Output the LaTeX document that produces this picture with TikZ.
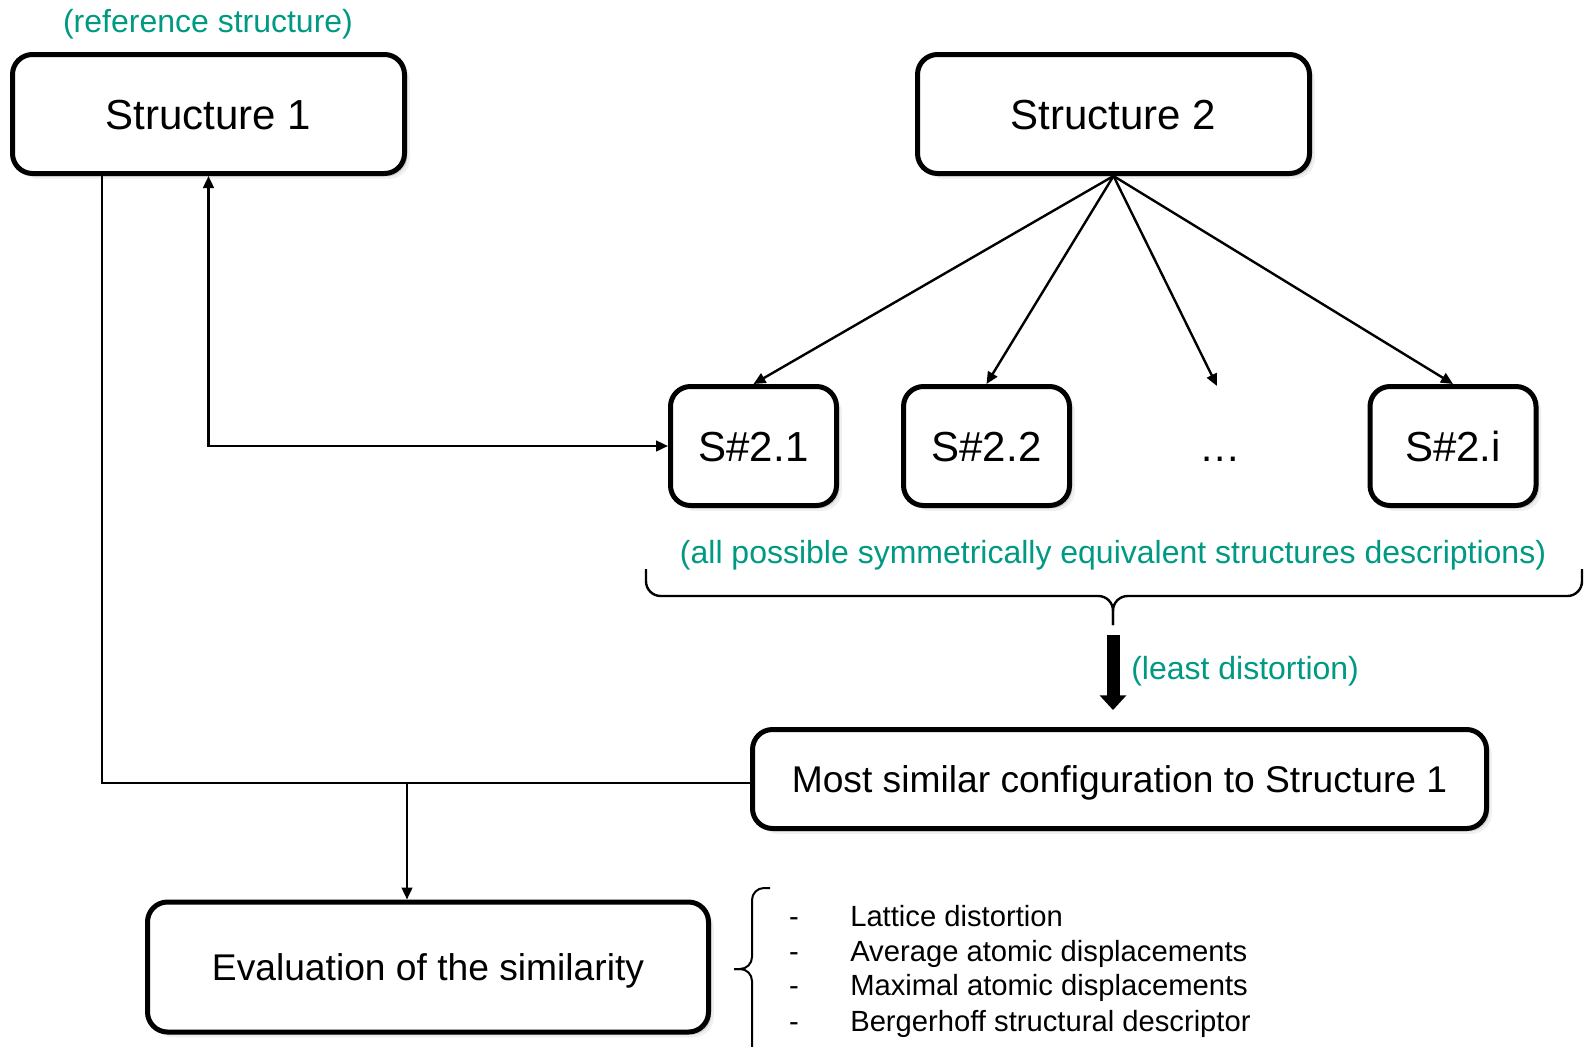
\documentclass[tikz,border=0pt]{standalone}
\usepackage{fontspec}
\setmainfont{Liberation Sans}
\usetikzlibrary{arrows.meta,shadows,calc}
\definecolor{notegreen}{RGB}{0,153,130}
\tikzset{
  box/.style={draw=black, line width=3.75pt, rounded corners=15pt, fill=white,
    inner sep=0pt,
    drop shadow={shadow xshift=4pt, shadow yshift=-4pt, opacity=0.12},
    drop shadow={shadow xshift=2.2pt, shadow yshift=-2.2pt, opacity=0.25}},
  bigfont/.style={font=\fontsize{31.5}{36}\selectfont, text height=22.6pt, text depth=0pt},
  midfont/.style={font=\fontsize{27.9}{34}\selectfont, text height=20.1pt, text depth=0pt},
  note/.style={text=notegreen, inner sep=0pt, font=\fontsize{24}{29}\selectfont},
  item/.style={inner sep=0pt, font=\fontsize{21.9}{26}\selectfont},
  conn/.style={line width=1.8pt},
  tip/.style={-{Triangle[length=9pt,width=8pt]}},
  bothtips/.style={{Triangle[length=9pt,width=8pt]}-{Triangle[length=9pt,width=8pt]}},
}
\begin{document}
\begin{tikzpicture}[x=0.75pt,y=-0.75pt]
\useasboundingbox (0,0) rectangle (1588,1046);

% main boxes
\node[box, bigfont, minimum width=294pt, minimum height=89.25pt] (s1) at (208.5,114) {Structure 1};
\node[box, bigfont, minimum width=294pt, minimum height=89.25pt] (s2) at (1113.5,114) {Structure 2};

% symmetrically equivalent descriptions
\node[box, bigfont, minimum width=124.5pt, minimum height=89.25pt] (s21) at (753.5,446) {S\#2.1};
\node[box, bigfont, minimum width=124.5pt, minimum height=89.25pt] (s22) at (986.5,446) {S\#2.2};
\node[box, bigfont, minimum width=124.5pt, minimum height=89.25pt] (s2i) at (1453,446) {S\#2.i};
\node[font=\fontsize{31}{36}\selectfont, inner sep=0pt, anchor=base] (dots) at (1220,461) {…};
\coordinate (dotsend) at (1217,386);

\node[box, midfont, minimum width=550.5pt, minimum height=74.25pt] (msc) at (1119.5,779) {Most similar configuration to Structure 1};
\node[box, midfont, minimum width=420.75pt, minimum height=97.5pt] (ev) at (428,967) {Evaluation of the similarity};

% green notes
\node[note] (reflabel) at (208,24) {(reference structure)};
\node[note] (alllabel) at (1113,555) {(all possible symmetrically equivalent structures descriptions)};
\node[note, anchor=west] (leastlabel) at (1131,671) {(least distortion)};

% fan from Structure 2
\draw[conn, tip] (s2.south) -- (s21.north);
\draw[conn, tip] (s2.south) -- (s22.north);
\draw[conn, tip] (s2.south) -- (dotsend);
\draw[conn, tip] (s2.south) -- (s2i.north);

% Structure 1 <-> S#2.1
\draw[conn, bothtips] (s1.south) |- (s21.west);

% Structure 1 and best configuration joined to the evaluation
\coordinate (sx) at (102,0);
\coordinate (ex) at (407,0);
\coordinate (jy) at (0,783);
\draw[conn] (s1.south -| sx) |- (msc.west |- jy);
\draw[conn, tip] (ex |- jy) -- (ev.north -| ex);

% brace under the descriptions
\coordinate (btip) at (1113,625);
\draw[line width=1.8pt, rounded corners=11pt] (646,569) -- (646,596) -- (btip |- 0,596) -- (btip);
\draw[line width=1.8pt, rounded corners=11pt] (1582,569) -- (1582,596) -- (btip |- 0,596) -- (btip);

% thick arrow to the best configuration
\draw[line width=9.75pt, -{Triangle[length=11pt,width=19.5pt]}, shorten <=7.5pt, shorten >=12.75pt]
  (btip) -- (btip |- msc.north);

% brace and list of criteria
\draw[line width=1.5pt, rounded corners=9pt] (770,888) -- (752,888) -- (752,969) -- (734,969);
\draw[line width=1.5pt, rounded corners=9pt] (752,1050) -- (752,969) -- (734,969);

\node[item, anchor=base] (d1) at (794,926) {-};
\node[item, anchor=base] (d2) at (794,961) {-};
\node[item, anchor=base] (d3) at (794,995) {-};
\node[item, anchor=base] (d4) at (794,1031) {-};
\node[item, anchor=base west] (l1) at (850,926) {Lattice distortion};
\node[item, anchor=base west] (l2) at (850,961) {Average atomic displacements};
\node[item, anchor=base west] (l3) at (850,995) {Maximal atomic displacements};
\node[item, anchor=base west] (l4) at (850,1031) {Bergerhoff structural descriptor};
\end{tikzpicture}
\end{document}
